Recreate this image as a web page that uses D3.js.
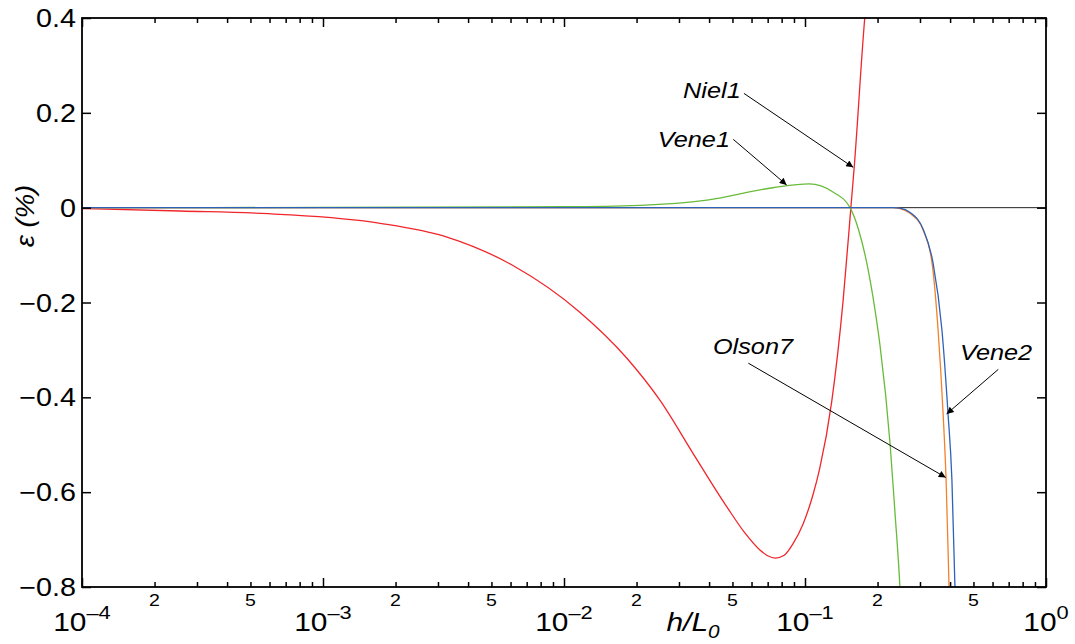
<!DOCTYPE html>
<html>
<head>
<meta charset="utf-8">
<script src="https://cdn.jsdelivr.net/npm/d3@7"></script>
<style>
  body { margin: 0; background: #fff; }
  text { font-family: "Liberation Sans", Arial, sans-serif; fill: #000; }
</style>
</head>
<body>
<div id="js-svg-container"></div>
<script>
// ---- data (h/L0, error in %) ----
let niel1H = [1e-4, 2.55e-4, 6.64e-4, 1.73e-3, 3.27e-3, 6.14e-3, 0.0116, 0.0182, 0.025, 0.0343, 0.0474, 0.0563, 0.065, 0.070, 0.0752, 0.082, 0.0891, 0.0982, 0.108, 0.115, 0.129, 0.144, 0.155, 0.160, 0.177, 0.183];
let niel1E = [-0.002, -0.007, -0.014, -0.033, -0.062, -0.122, -0.220, -0.317, -0.406, -0.518, -0.631, -0.686, -0.722, -0.734, -0.739, -0.733, -0.709, -0.667, -0.605, -0.551, -0.41, -0.195, 0, 0.085, 0.4, 0.48];

let vene1H = [1e-4, 1e-3, 0.01, 0.0207, 0.0392, 0.0736, 0.104, 0.1306, 0.1538, 0.166, 0.1807, 0.195, 0.2047, 0.2255, 0.236, 0.2477, 0.252];
let vene1E = [0, 0.0005, 0.002, 0.005, 0.016, 0.042, 0.05, 0.033, 0, -0.043, -0.118, -0.214, -0.29, -0.499, -0.64, -0.8, -0.88];

let olson7H = [1e-4, 0.1, 0.2317, 0.2477, 0.273, 0.309, 0.3367, 0.3566, 0.374, 0.385, 0.396, 0.40];
let olson7E = [0, 0, 0, -0.002, -0.012, -0.047, -0.117, -0.258, -0.433, -0.574, -0.8, -0.88];

let vene2H = [1e-4, 0.1, 0.2317, 0.2477, 0.273, 0.309, 0.340, 0.370, 0.392, 0.407, 0.419, 0.425];
let vene2E = [0, 0, 0, -0.001, -0.010, -0.045, -0.117, -0.258, -0.433, -0.574, -0.8, -0.88];

let yTicks = [-0.8, -0.6, -0.4, -0.2, 0, 0.2, 0.4];
let xMajor = [1e-4, 1e-3, 1e-2, 1e-1, 1];
let xMinorLabels = [2, 5];

// annotations: label position, arrow start, arrow tip (data coords)
let notes = [
    { text: 'Niel1', at: [0.0312, 0.232], from: [0.0558, 0.241], to: [0.1585, 0.085] },
    { text: 'Vene1', at: [0.0245, 0.128], from: [0.0504, 0.144], to: [0.0839, 0.048] },
    { text: 'Olson7', at: [0.0415, -0.309], from: [0.0582, -0.328], to: [0.3837, -0.569] },
    { text: 'Vene2', at: [0.4395, -0.321], from: [0.634, -0.341], to: [0.387, -0.435] }
];

let series = [
    { name: 'Niel1', h: niel1H, e: niel1E, color: '#f0262b' },
    { name: 'Vene1', h: vene1H, e: vene1E, color: '#68bb3a' },
    { name: 'Olson7', h: olson7H, e: olson7E, color: '#f5802a' },
    { name: 'Vene2', h: vene2H, e: vene2E, color: '#2d62b8' }
];

let W = 1075, H = 644;
let margin = { top: 18, right: 29, bottom: 57, left: 82 };
let SX = 1.15; // figure text is slightly stretched horizontally

let x = d3.scaleLog()
    .domain([1e-4, 1])
    .range([margin.left, W - margin.right]);

let y = d3.scaleLinear()
    .domain([-0.8, 0.4])
    .range([H - margin.bottom, margin.top]);

let svg = d3.select('#js-svg-container')
    .append('svg')
    .attr('width', W)
    .attr('height', H);

svg.append('defs').append('clipPath').attr('id', 'plot-clip')
    .append('rect')
    .attr('x', margin.left).attr('y', margin.top)
    .attr('width', x(1) - x(1e-4)).attr('height', y(-0.8) - y(0.4));

svg.select('defs').append('marker')
    .attr('id', 'arrowhead')
    .attr('viewBox', '0 0 10 10')
    .attr('refX', 10).attr('refY', 5)
    .attr('markerWidth', 10).attr('markerHeight', 7)
    .attr('markerUnits', 'userSpaceOnUse')
    .attr('orient', 'auto')
    .append('path')
    .attr('d', 'M0,0 L10,5 L0,10 Z')
    .attr('fill', '#000');

function stretched(parent, px, py) {
    return parent.append('g')
        .attr('transform', 'translate(' + px + ',' + py + ') scale(' + SX + ',1)')
        .append('text');
}

// zero line
svg.append('line')
    .attr('x1', x(1e-4)).attr('x2', x(1))
    .attr('y1', y(0)).attr('y2', y(0))
    .attr('stroke', '#222').attr('stroke-width', 1);

// curves
let line = d3.line()
    .x(d => x(d[0]))
    .y(d => y(d[1]))
    .curve(d3.curveMonotoneX);

svg.append('g')
    .attr('clip-path', 'url(#plot-clip)')
    .selectAll('path')
    .data(series)
    .enter()
    .append('path')
    .attr('d', s => line(s.h.map((h, i) => [h, s.e[i]])))
    .attr('fill', 'none')
    .attr('stroke', s => s.color)
    .attr('stroke-width', 1.3);

// ticks: all four sides, pointing inward
let xMinor = [];
xMajor.slice(0, -1).forEach(d => {
    for (let k = 2; k <= 9; k++) xMinor.push(d * k);
});

function tickAxes(axisFn, scale, values, size, transform) {
    let g = svg.append('g')
        .attr('transform', transform)
        .call(axisFn(scale).tickValues(values).tickSize(size).tickSizeOuter(0).tickFormat(''));
    g.select('.domain').remove();
    g.selectAll('line').attr('stroke', '#000').attr('stroke-width', 1.5);
    return g;
}

tickAxes(d3.axisBottom, x, xMajor, -9, 'translate(0,' + y(-0.8) + ')');
tickAxes(d3.axisBottom, x, xMinor, -5, 'translate(0,' + y(-0.8) + ')');
tickAxes(d3.axisTop, x, xMajor, -9, 'translate(0,' + y(0.4) + ')');
tickAxes(d3.axisTop, x, xMinor, -5, 'translate(0,' + y(0.4) + ')');
tickAxes(d3.axisLeft, y, yTicks, -9, 'translate(' + x(1e-4) + ',0)');
tickAxes(d3.axisRight, y, yTicks, -9, 'translate(' + x(1) + ',0)');

// frame
svg.append('rect')
    .attr('x', x(1e-4)).attr('y', y(0.4))
    .attr('width', x(1) - x(1e-4)).attr('height', y(-0.8) - y(0.4))
    .attr('fill', 'none').attr('stroke', '#000').attr('stroke-width', 1.8);

// y tick labels
yTicks.forEach(v => {
    let label = v === 0 ? '0' : d3.format('.1f')(v).replace('-', '\u2013');
    stretched(svg, x(1e-4) - 6, y(v) + 9)
        .attr('text-anchor', 'end')
        .style('font-size', '25px')
        .text(label);
});

// x major labels 10^n
xMajor.forEach(v => {
    let p = Math.round(Math.log10(v));
    let t = stretched(svg, x(v), 631)
        .attr('text-anchor', 'middle')
        .style('font-size', '26px');
    t.append('tspan').text('10');
    t.append('tspan')
        .attr('dy', -12)
        .style('font-size', '19px')
        .text(p < 0 ? '\u2013' + (-p) : String(p));
});

// x minor labels 2 and 5
xMajor.slice(0, -1).forEach(d => {
    xMinorLabels.forEach(k => {
        stretched(svg, x(d * k), 606)
            .attr('text-anchor', 'middle')
            .style('font-size', '17px')
            .text(k);
    });
});

// axis titles
let xt = stretched(svg, 693, 631)
    .attr('text-anchor', 'middle')
    .style('font-size', '26px')
    .style('font-style', 'italic');
xt.append('tspan').text('h/L');
xt.append('tspan').attr('dy', 7).style('font-size', '18px').text('0');

svg.append('g')
    .attr('transform', 'translate(34,216) rotate(-90) scale(1.1,1)')
    .append('text')
    .attr('text-anchor', 'middle')
    .style('font-size', '25px')
    .style('font-style', 'italic')
    .text('\u03b5 (%)');

// annotations
notes.forEach(n => {
    svg.append('line')
        .attr('x1', x(n.from[0])).attr('y1', y(n.from[1]))
        .attr('x2', x(n.to[0])).attr('y2', y(n.to[1]))
        .attr('stroke', '#000').attr('stroke-width', 1)
        .attr('marker-end', 'url(#arrowhead)');
    stretched(svg, x(n.at[0]), y(n.at[1]))
        .style('font-size', '22px')
        .style('font-style', 'italic')
        .text(n.text);
});
</script>
</body>
</html>
